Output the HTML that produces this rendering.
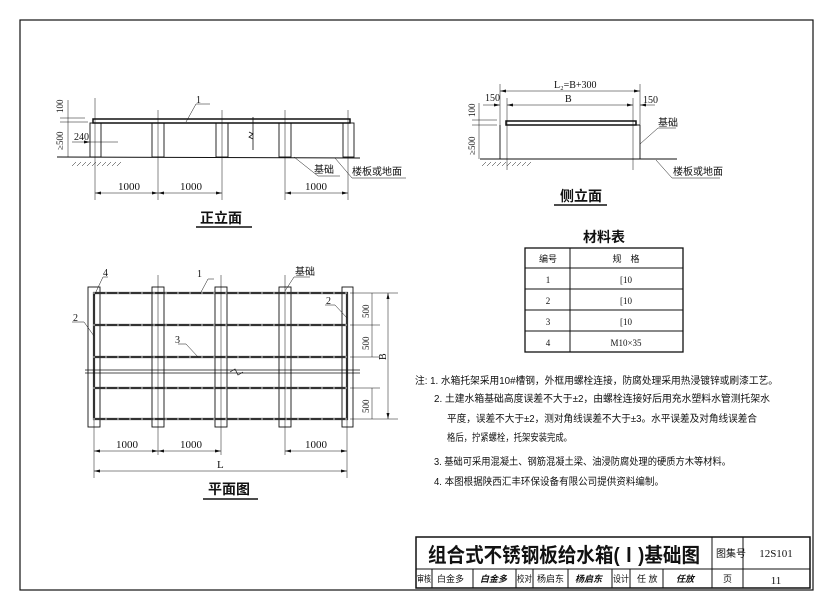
<!DOCTYPE html>
<html><head><meta charset="utf-8"><style>
html,body{margin:0;padding:0;background:#fff}
svg{display:block}
text{font-family:"Liberation Sans","Noto Sans CJK SC",sans-serif;fill:#111;stroke:none}
.s{font-family:"Liberation Serif","Noto Serif CJK SC",serif}
</style></head><body>
<svg width="830" height="595" viewBox="0 0 830 595" xmlns="http://www.w3.org/2000/svg">
<rect width="830" height="595" fill="#fff"/>
<g stroke="#111" fill="none">
<rect x="20" y="20" width="793" height="570" stroke-width="1.2"/>
<rect x="416" y="537" width="394" height="51" stroke-width="1.5"/>
<line x1="416" y1="569" x2="810" y2="569"/>
<line x1="712" y1="537" x2="712" y2="588"/>
<line x1="743" y1="537" x2="743" y2="588"/>
<line x1="432" y1="569" x2="432" y2="588"/>
<line x1="473" y1="569" x2="473" y2="588"/>
<line x1="516" y1="569" x2="516" y2="588"/>
<line x1="533" y1="569" x2="533" y2="588"/>
<line x1="568" y1="569" x2="568" y2="588"/>
<line x1="612" y1="569" x2="612" y2="588"/>
<line x1="630" y1="569" x2="630" y2="588"/>
<line x1="663" y1="569" x2="663" y2="588"/>

<!-- FRONT ELEVATION -->
<rect x="93" y="119" width="257" height="4" stroke-width="1.5"/>
<g stroke-width="0.9">
<rect x="90" y="123" width="11" height="34"/>
<rect x="152" y="123" width="12" height="34"/>
<rect x="216" y="123" width="12" height="34"/>
<rect x="279" y="123" width="12" height="34"/>
<rect x="343" y="123" width="11" height="34"/>
</g>
<line x1="57" y1="157" x2="360" y2="158"/>
<path d="M253 117 V150 M249 132 l4 2 -4 3 4 2" stroke-width="0.8"/>
<g stroke-width="0.5">
<line x1="95" y1="98" x2="95" y2="200"/><line x1="158" y1="110" x2="158" y2="200"/>
<line x1="222" y1="110" x2="222" y2="200"/><line x1="285" y1="110" x2="285" y2="200"/>
<line x1="348" y1="110" x2="348" y2="200"/>
<path d="M72 166 l4 -4 M77 166 l4 -4 M82 166 l4 -4 M87 166 l4 -4 M92 166 l4 -4 M97 166 l4 -4 M102 166 l4 -4 M107 166 l4 -4 M112 166 l4 -4 M117 166 l4 -4"/>
<line x1="95" y1="193" x2="222" y2="193"/><line x1="285" y1="193" x2="348" y2="193"/>
<line x1="68" y1="100" x2="68" y2="157"/>
<line x1="60" y1="118" x2="85" y2="118"/><line x1="60" y1="122" x2="88" y2="122"/>
<line x1="72" y1="142" x2="118" y2="142"/>
<polyline points="186,122 196,104 210,104"/>
<polyline points="294,157 318,176 340,176"/>
<polyline points="335,158 352,178 406,178"/>
</g>
<path d="M95 193 l6 -1.5 v3z M158 193 l-6 -1.5 v3z M158 193 l6 -1.5 v3z M222 193 l-6 -1.5 v3z M285 193 l6 -1.5 v3z M348 193 l-6 -1.5 v3z M90 142 l-6 -1.5 v3z" fill="#111" stroke="none"/>
<text x="118" y="190" font-size="11" class="s">1000</text>
<text x="180" y="190" font-size="11" class="s">1000</text>
<text x="305" y="190" font-size="11" class="s">1000</text>
<text x="74" y="140" font-size="10" class="s">240</text>
<text x="196" y="103" font-size="10" class="s">1</text>
<text transform="translate(63,113) rotate(-90)" font-size="9" class="s">100</text>
<text transform="translate(63,150) rotate(-90)" font-size="9" class="s">≥500</text>
<text x="314" y="173" font-size="10">基础</text>
<text x="352" y="175" font-size="10">楼板或地面</text>
<text x="200" y="223" font-size="14" font-weight="bold">正立面</text>
<line x1="196" y1="227" x2="252" y2="227" stroke-width="1.5"/>

<!-- PLAN -->
<g stroke-width="0.9">
<rect x="88" y="287" width="12" height="140"/>
<rect x="152" y="287" width="12" height="140"/>
<rect x="215" y="287" width="12" height="140"/>
<rect x="279" y="287" width="12" height="140"/>
<rect x="342" y="287" width="11" height="140"/>
</g>
<g stroke-width="2.2" stroke="#333">
<line x1="93" y1="293" x2="348" y2="293"/><line x1="93" y1="325" x2="348" y2="325"/>
<line x1="93" y1="357" x2="348" y2="357"/><line x1="93" y1="388" x2="348" y2="388"/>
<line x1="93" y1="419" x2="348" y2="419"/>
<line x1="94" y1="292" x2="94" y2="420"/><line x1="347" y1="292" x2="347" y2="420"/>
</g>
<g stroke="#fff" stroke-width="0.8" stroke-dasharray="2 10">
<line x1="93" y1="293" x2="348" y2="293"/><line x1="93" y1="325" x2="348" y2="325"/>
<line x1="93" y1="357" x2="348" y2="357"/><line x1="93" y1="388" x2="348" y2="388"/>
<line x1="93" y1="419" x2="348" y2="419"/>
</g>
<line x1="85" y1="370" x2="360" y2="370" stroke-width="0.7"/>
<line x1="85" y1="373" x2="360" y2="373" stroke-width="0.7"/>
<path d="M230 372 l5 -3 3 6 5 -3" stroke-width="0.7"/>
<g stroke-width="0.5">
<line x1="94" y1="420" x2="94" y2="478"/><line x1="158" y1="275" x2="158" y2="455"/>
<line x1="221" y1="275" x2="221" y2="455"/><line x1="285" y1="275" x2="285" y2="455"/>
<line x1="347" y1="420" x2="347" y2="478"/>
<line x1="94" y1="451" x2="221" y2="451"/><line x1="285" y1="451" x2="347" y2="451"/>
<line x1="94" y1="471" x2="347" y2="471"/>
<line x1="350" y1="293" x2="398" y2="293"/><line x1="350" y1="325" x2="380" y2="325"/>
<line x1="350" y1="357" x2="380" y2="357"/><line x1="350" y1="388" x2="380" y2="388"/>
<line x1="350" y1="419" x2="398" y2="419"/>
<line x1="372" y1="293" x2="372" y2="357"/><line x1="372" y1="388" x2="372" y2="419"/>
<line x1="388" y1="293" x2="388" y2="419"/>
<polyline points="94,296 103,277 108,277"/>
<polyline points="94,336 84,322 72,322"/>
<polyline points="200,294 208,279 214,279"/>
<polyline points="198,357 186,344 178,344"/>
<polyline points="285,291 294,277 310,277"/>
<polyline points="347,318 335,305 325,305"/>
</g>
<path d="M94 451 l6 -1.5 v3z M158 451 l-6 -1.5 v3z M158 451 l6 -1.5 v3z M221 451 l-6 -1.5 v3z M285 451 l6 -1.5 v3z M347 451 l-6 -1.5 v3z M94 471 l6 -1.5 v3z M347 471 l-6 -1.5 v3z M388 293 l-1.5 6 h3z M388 419 l-1.5 -6 h3z" fill="#111" stroke="none"/>
<text x="103" y="276" font-size="10" class="s">4</text>
<text x="73" y="321" font-size="10" class="s">2</text>
<text x="197" y="277" font-size="10" class="s">1</text>
<text x="175" y="343" font-size="10" class="s">3</text>
<text x="295" y="275" font-size="10">基础</text>
<text x="326" y="304" font-size="10" class="s">2</text>
<text x="116" y="448" font-size="11" class="s">1000</text>
<text x="180" y="448" font-size="11" class="s">1000</text>
<text x="305" y="448" font-size="11" class="s">1000</text>
<text x="217" y="468" font-size="11" class="s">L</text>
<text transform="translate(369,318) rotate(-90)" font-size="9" class="s">500</text>
<text transform="translate(369,350) rotate(-90)" font-size="9" class="s">500</text>
<text transform="translate(369,413) rotate(-90)" font-size="9" class="s">500</text>
<text transform="translate(386,360) rotate(-90)" font-size="10" class="s">B</text>
<text x="208" y="494" font-size="14" font-weight="bold">平面图</text>
<line x1="203" y1="499" x2="258" y2="499" stroke-width="1.5"/>

<!-- SIDE ELEVATION -->
<rect x="506" y="121" width="130" height="4" stroke-width="1.5"/>
<path d="M500 125 V159 M640 125 V159 M636 125 H640" stroke-width="0.9"/>
<line x1="480" y1="159" x2="677" y2="159"/>
<g stroke-width="0.5">
<line x1="500" y1="84" x2="500" y2="125"/><line x1="640" y1="84" x2="640" y2="125"/>
<line x1="507" y1="98" x2="507" y2="170"/><line x1="633" y1="98" x2="633" y2="170"/>
<line x1="500" y1="91" x2="640" y2="91"/><line x1="507" y1="105" x2="633" y2="105"/>
<line x1="483" y1="105" x2="500" y2="105"/><line x1="640" y1="105" x2="655" y2="105"/>
<line x1="479" y1="103" x2="479" y2="159"/>
<line x1="472" y1="120" x2="497" y2="120"/><line x1="472" y1="125" x2="497" y2="125"/>
<path d="M482 166 l4 -4 M487 166 l4 -4 M492 166 l4 -4 M497 166 l4 -4 M502 166 l4 -4 M507 166 l4 -4 M512 166 l4 -4 M517 166 l4 -4 M522 166 l4 -4 M527 166 l4 -4"/>
<polyline points="640,144 658,128 676,128"/>
<polyline points="656,160 672,178 720,178"/>
</g>
<path d="M500 91 l6 -1.5 v3z M640 91 l-6 -1.5 v3z M507 105 l6 -1.5 v3z M633 105 l-6 -1.5 v3z M500 105 l-6 -1.5 v3z M640 105 l6 -1.5 v3z" fill="#111" stroke="none"/>
<text x="554" y="88" font-size="10" class="s">L₂=B+300</text>
<text x="565" y="102" font-size="10" class="s">B</text>
<text x="485" y="101" font-size="10" class="s">150</text>
<text x="643" y="103" font-size="10" class="s">150</text>
<text transform="translate(475,117) rotate(-90)" font-size="9" class="s">100</text>
<text transform="translate(475,155) rotate(-90)" font-size="9" class="s">≥500</text>
<text x="658" y="126" font-size="10">基础</text>
<text x="673" y="175" font-size="10">楼板或地面</text>
<text x="560" y="201" font-size="14" font-weight="bold">侧立面</text>
<line x1="554" y1="205" x2="607" y2="205" stroke-width="1.5"/>

<text x="583" y="242" font-size="14" font-weight="bold">材料表</text>
<rect x="525" y="248" width="158" height="104" stroke-width="1.3"/>
<line x1="525" y1="268" x2="683" y2="268"/><line x1="525" y1="289" x2="683" y2="289"/>
<line x1="525" y1="310" x2="683" y2="310"/><line x1="525" y1="331" x2="683" y2="331"/>
<line x1="570" y1="248" x2="570" y2="352"/>
</g>
<g font-size="9" text-anchor="middle">
<text x="548" y="262">编号</text><text x="626" y="262">规　格</text>
<text x="548" y="283" class="s">1</text><text x="626" y="283" class="s">[10</text>
<text x="548" y="304" class="s">2</text><text x="626" y="304" class="s">[10</text>
<text x="548" y="325" class="s">3</text><text x="626" y="325" class="s">[10</text>
<text x="548" y="346" class="s">4</text><text x="626" y="346" class="s">M10×35</text>
</g>

<g font-size="10">
<text x="415" y="384" textLength="363" lengthAdjust="spacingAndGlyphs">注: 1. 水箱托架采用10#槽钢，外框用螺栓连接，防腐处理采用热浸镀锌或刷漆工艺。</text>
<text x="434" y="402" textLength="336" lengthAdjust="spacingAndGlyphs">2. 土建水箱基础高度误差不大于±2，由螺栓连接好后用充水塑料水管测托架水</text>
<text x="447" y="422" textLength="310" lengthAdjust="spacingAndGlyphs">平度，误差不大于±2，测对角线误差不大于±3。水平误差及对角线误差合</text>
<text x="447" y="441" textLength="125" lengthAdjust="spacingAndGlyphs">格后，拧紧螺栓，托架安装完成。</text>
<text x="434" y="465" textLength="297" lengthAdjust="spacingAndGlyphs">3. 基础可采用混凝土、钢筋混凝土梁、油浸防腐处理的硬质方木等材料。</text>
<text x="434" y="485" textLength="230" lengthAdjust="spacingAndGlyphs">4. 本图根据陕西汇丰环保设备有限公司提供资料编制。</text>
</g>

<text x="428" y="562" font-size="20" font-weight="bold" textLength="272" lengthAdjust="spacingAndGlyphs">组合式不锈钢板给水箱(Ⅰ)基础图</text>
<text x="716" y="557" font-size="10">图集号</text>
<text x="776" y="557" font-size="11" class="s" text-anchor="middle">12S101</text>
<g font-size="9">
<text x="417" y="582" textLength="14" lengthAdjust="spacingAndGlyphs">审核</text><text x="437" y="582">白金多</text>
<text x="480" y="582" font-style="italic" font-weight="bold">白金多</text>
<text x="517" y="582" textLength="15" lengthAdjust="spacingAndGlyphs">校对</text><text x="537" y="582">杨启东</text>
<text x="575" y="582" font-style="italic" font-weight="bold">杨启东</text>
<text x="613" y="582" textLength="16" lengthAdjust="spacingAndGlyphs">设计</text><text x="637" y="582">任 放</text>
<text x="676" y="582" font-style="italic" font-weight="bold">任放</text>
<text x="723" y="582">页</text>
</g>
<text x="776" y="584" font-size="11" class="s" text-anchor="middle">11</text>
</svg>
</body></html>
